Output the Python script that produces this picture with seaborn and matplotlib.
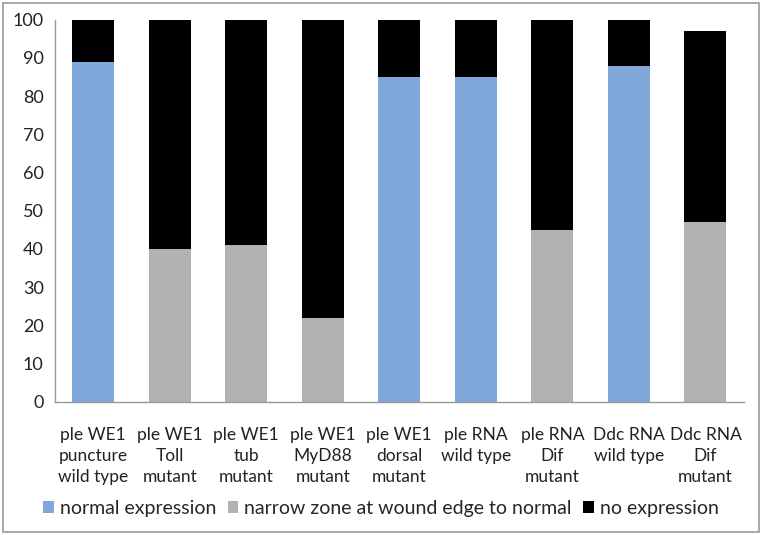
import matplotlib
matplotlib.use("Agg")
import matplotlib.pyplot as plt
import seaborn as sns
import pandas as pd
from matplotlib.patches import Patch, Rectangle

categories = ["ple WE1\npuncture\nwild type", "ple WE1\nToll\nmutant", "ple WE1\ntub\nmutant",
              "ple WE1\nMyD88\nmutant", "ple WE1\ndorsal\nmutant", "ple RNA\nwild type",
              "ple RNA\nDif\nmutant", "Ddc RNA\nwild type", "Ddc RNA\nDif\nmutant"]
normal_expression = [89, 0, 0, 0, 85, 85, 0, 88, 0]
narrow_zone = [0, 40, 41, 22, 0, 0, 45, 0, 47]
no_expression = [11, 60, 59, 78, 15, 15, 55, 12, 50]
series_names = ["normal expression", "narrow zone at wound edge to normal", "no expression"]
series_colors = ["#7fa7d9", "#b2b2b2", "#000000"]

sns.set_style("white")
plt.rcParams['font.family'] = ['Lato', 'DejaVu Sans']

df = pd.DataFrame({"cat": categories, "normal": normal_expression,
                   "narrow": narrow_zone, "none": no_expression})
df["base"] = df["normal"] + df["narrow"]
df["total"] = df["base"] + df["none"]
base_colors = [series_colors[0] if n > 0 else series_colors[1] for n in df["normal"]]

fig = plt.figure(figsize=(7.62, 5.35), dpi=100)
ax = fig.add_axes([0.072, 0.249, 0.904, 0.714])

sns.barplot(data=df, x="cat", y="total", color=series_colors[2], width=0.55,
            saturation=1, ax=ax, linewidth=0)
sns.barplot(data=df, x="cat", y="base", hue="cat", palette=base_colors, width=0.55,
            saturation=1, ax=ax, linewidth=0, legend=False)

ax.set_ylim(0, 100)
ax.set_yticks(range(0, 101, 10))
ax.set_xlim(-0.5, len(categories) - 0.5)
ax.set_xlabel("")
ax.set_ylabel("")
ax.tick_params(axis="both", length=0, labelsize=13, colors="#222222")
ax.tick_params(axis="y", pad=8)
ax.tick_params(axis="x", pad=18)
for lbl in ax.get_xticklabels():
    lbl.set_linespacing(1.4)
    lbl.set_fontsize(12.5)
for s in ["top", "right"]:
    ax.spines[s].set_visible(False)
for s in ["left", "bottom"]:
    ax.spines[s].set_color("#999999")
    ax.spines[s].set_linewidth(1.0)

handles = [Patch(facecolor=c, edgecolor="none") for c in series_colors]
fig.legend(handles, series_names, loc="center", bbox_to_anchor=(0.5, 0.05), ncol=3,
           frameon=False, fontsize=14, handlelength=0.55, handleheight=0.6,
           handletextpad=0.3, columnspacing=0.6)

fig.patches.append(Rectangle((0.004, 0.006), 0.992, 0.988, transform=fig.transFigure,
                             fill=False, edgecolor="#999999", linewidth=1.2))

fig.savefig("out.png", dpi=100)
